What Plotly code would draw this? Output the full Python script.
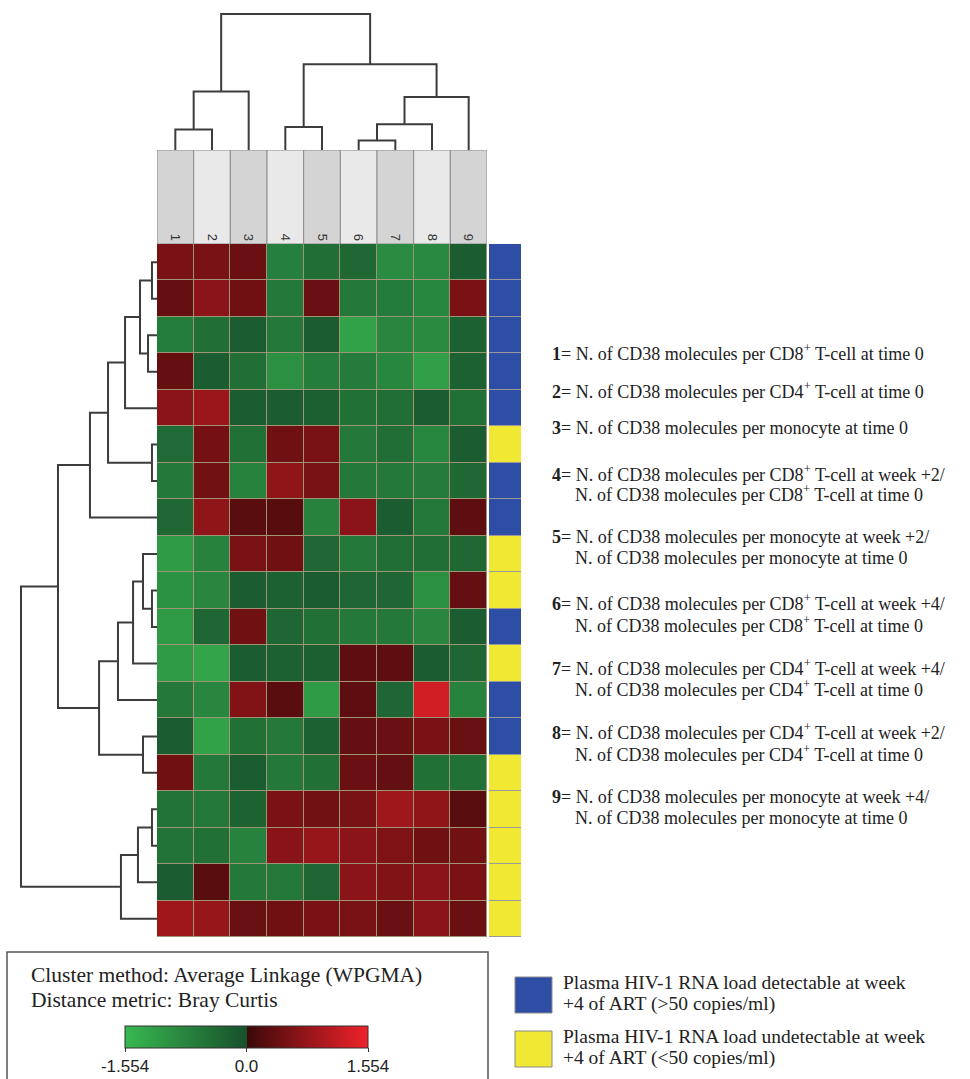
import plotly.graph_objects as go

W, H = 970, 1079

# ---- data -------------------------------------------------------------
columns = ["1", "2", "3", "4", "5", "6", "7", "8", "9"]

# standardized values, one row per patient (top to bottom, clustered order)
values = [
    [0.55, 0.53, 0.41, -0.72, -0.47, -0.36, -0.90, -0.85, -0.20],
    [0.37, 0.68, 0.46, -0.60, 0.41, -0.60, -0.64, -0.82, 0.55],
    [-0.67, -0.45, -0.20, -0.62, -0.20, -1.22, -0.80, -0.88, -0.25],
    [0.37, -0.20, -0.47, -0.96, -0.67, -0.64, -0.82, -1.18, -0.25],
    [0.68, 0.82, -0.20, -0.20, -0.22, -0.49, -0.47, -0.20, -0.49],
    [-0.39, 0.50, -0.49, 0.45, 0.53, -0.62, -0.45, -0.82, -0.20],
    [-0.62, 0.48, -0.75, 0.73, 0.53, -0.62, -0.62, -0.64, -0.36],
    [-0.36, 0.73, 0.27, 0.25, -0.75, 0.68, -0.20, -0.62, 0.31],
    [-1.12, -0.75, 0.55, 0.46, -0.36, -0.62, -0.45, -0.45, -0.36],
    [-0.98, -0.80, -0.20, -0.25, -0.20, -0.34, -0.34, -0.96, 0.36],
    [-1.12, -0.34, 0.46, -0.34, -0.49, -0.62, -0.62, -0.80, -0.20],
    [-1.12, -1.25, -0.20, -0.25, -0.22, 0.31, 0.31, -0.20, -0.34],
    [-0.62, -0.80, 0.61, 0.27, -1.12, 0.31, -0.34, 1.28, -0.75],
    [-0.20, -1.22, -0.49, -0.62, -0.25, 0.36, 0.41, 0.55, 0.38],
    [0.46, -0.62, -0.20, -0.62, -0.49, 0.41, 0.36, -0.49, -0.49],
    [-0.52, -0.62, -0.28, 0.55, 0.48, 0.53, 0.87, 0.73, 0.27],
    [-0.52, -0.49, -0.75, 0.67, 0.79, 0.68, 0.58, 0.46, 0.48],
    [-0.20, 0.27, -0.62, -0.62, -0.34, 0.68, 0.61, 0.68, 0.55],
    [0.87, 0.79, 0.38, 0.46, 0.55, 0.53, 0.41, 0.68, 0.41],
]

# 1 = detectable viral load at week +4, 0 = undetectable
detectable = [1, 1, 1, 1, 1, 0, 1, 1, 0, 0, 1, 0, 1, 1, 0, 0, 0, 0, 0]

z_limit = 1.554
colorbar_ticks = [-1.554, 0.0, 1.554]
colorbar_ticktext = ["-1.554", "0.0", "1.554"]

# WPGMA linkage (scipy-style ids: leaves first, then merges), heights relative to root
col_linkage = [
    (0, 1, 0.15), (9, 2, 0.43), (3, 4, 0.17), (5, 6, 0.07),
    (12, 7, 0.19), (13, 8, 0.39), (11, 14, 0.63), (10, 15, 1.00),
]
row_linkage = [
    (0, 1, 0.037), (2, 3, 0.066), (19, 20, 0.125), (21, 4, 0.235),
    (5, 6, 0.037), (22, 23, 0.360), (24, 7, 0.493), (9, 10, 0.037),
    (8, 26, 0.103), (27, 11, 0.176), (28, 12, 0.287), (13, 14, 0.103),
    (29, 30, 0.426), (25, 31, 0.728), (15, 16, 0.037), (33, 17, 0.140),
    (34, 18, 0.265), (32, 35, 1.000),
]

variable_labels = [
    ("<b>1</b>= N. of CD38 molecules per CD8<sup>+</sup> T-cell at time 0", None),
    ("<b>2</b>= N. of CD38 molecules per CD4<sup>+</sup> T-cell at time 0", None),
    ("<b>3</b>= N. of CD38 molecules per monocyte at time 0", None),
    ("<b>4</b>= N. of CD38 molecules per CD8<sup>+</sup> T-cell at week +2/",
     "N. of CD38 molecules per CD8<sup>+</sup> T-cell at time 0"),
    ("<b>5</b>= N. of CD38 molecules per monocyte at week +2/",
     "N. of CD38 molecules per monocyte at time 0"),
    ("<b>6</b>= N. of CD38 molecules per CD8<sup>+</sup> T-cell at week +4/",
     "N. of CD38 molecules per CD8<sup>+</sup> T-cell at time 0"),
    ("<b>7</b>= N. of CD38 molecules per CD4<sup>+</sup> T-cell at week +4/",
     "N. of CD38 molecules per CD4<sup>+</sup> T-cell at time 0"),
    ("<b>8</b>= N. of CD38 molecules per CD4<sup>+</sup> T-cell at week +2/",
     "N. of CD38 molecules per CD4<sup>+</sup> T-cell at time 0"),
    ("<b>9</b>= N. of CD38 molecules per monocyte at week +4/",
     "N. of CD38 molecules per monocyte at time 0"),
]

status_labels = [
    ("Plasma HIV-1 RNA load detectable at week", "+4 of ART (>50 copies/ml)"),
    ("Plasma HIV-1 RNA load undetectable at week", "+4 of ART (<50 copies/ml)"),
]

# ---- styling ----------------------------------------------------------
BLUE = "#2e4ea6"
YELLOW = "#f1e834"
LINE = "#3c3c3c"
SERIF = "Liberation Serif"
SANS = "Liberation Sans"
heat_scale = [[0.0, "#38b850"], [0.5, "#17502c"], [0.5, "#3a0909"], [1.0, "#f0222a"]]


def px(x):
    return x / W


def py(y):
    return 1 - y / H


def dendro_segments(linkage, n_leaves):
    pos = {i: float(i) for i in range(n_leaves)}
    hgt = {i: 0.0 for i in range(n_leaves)}
    along, height = [], []
    for k, (a, b, h) in enumerate(linkage):
        along += [pos[a], pos[a], pos[b], pos[b], None]
        height += [hgt[a], h, h, hgt[b], None]
        pos[n_leaves + k] = (pos[a] + pos[b]) / 2
        hgt[n_leaves + k] = h
    return along, height


n_rows, n_cols = len(values), len(columns)
rows = list(range(n_rows))
cols = list(range(n_cols))

# pixel frame of the panels
HX0, HX1 = 157, 487      # heatmap
HY0, HY1 = 244, 937
AX0, AX1 = 489, 521      # status column
TOP_Y0 = 150             # header boxes top / column dendrogram base
ROOT_SPAN = 136          # pixels covered by a height of 1.0

fig = go.Figure()

# main heatmap
fig.add_trace(go.Heatmap(
    z=values, x=cols, y=rows, xaxis="x", yaxis="y",
    colorscale=heat_scale, zmin=-z_limit, zmax=z_limit,
    xgap=1, ygap=1, hoverinfo="skip",
    colorbar=dict(
        orientation="h", x=px(246.5), xanchor="center", y=py(1026), yanchor="top",
        len=243, lenmode="pixels", thickness=22, thicknessmode="pixels",
        xpad=0, ypad=0, outlinewidth=1, outlinecolor="#333",
        tickvals=colorbar_ticks, ticktext=colorbar_ticktext,
        ticks="outside", ticklen=4, tickcolor="#333",
        tickfont=dict(family=SANS, size=17, color="#222"),
    ),
))

# status column
fig.add_trace(go.Heatmap(
    z=[[d] for d in detectable], x=[0], y=rows, xaxis="x2", yaxis="y2",
    colorscale=[[0, YELLOW], [0.5, YELLOW], [0.5, BLUE], [1, BLUE]],
    zmin=0, zmax=1, showscale=False, ygap=1, hoverinfo="skip",
))

# column header boxes with labels
fig.add_trace(go.Bar(
    x=cols, y=[1] * n_cols, width=1, xaxis="x5", yaxis="y5",
    marker=dict(color=["#d4d4d4" if i % 2 == 0 else "#e9e9e9" for i in cols],
                line=dict(color="#8c8c8c", width=1)),
    text=columns, textposition="inside", insidetextanchor="start",
    textangle=90, constraintext="none",
    textfont=dict(family=SANS, size=13, color="#333"),
    hoverinfo="skip",
))

# column dendrogram
ca, ch = dendro_segments(col_linkage, n_cols)
fig.add_trace(go.Scatter(x=ca, y=ch, xaxis="x3", yaxis="y3", mode="lines",
                         line=dict(color=LINE, width=2), hoverinfo="skip"))

# row dendrogram
ra, rh = dendro_segments(row_linkage, n_rows)
fig.add_trace(go.Scatter(x=rh, y=ra, xaxis="x4", yaxis="y4", mode="lines",
                         line=dict(color=LINE, width=2), hoverinfo="skip"))

hidden = dict(visible=False, fixedrange=True)
cell_x = [-0.5, n_cols - 0.5]
cell_y = [n_rows - 0.5, -0.5]

fig.update_layout(
    width=W, height=H, autosize=False,
    margin=dict(l=0, r=0, t=0, b=0),
    paper_bgcolor="white", plot_bgcolor="rgba(0,0,0,0)",
    showlegend=False,
    xaxis=dict(domain=[px(HX0), px(HX1)], range=cell_x, anchor="y", **hidden),
    yaxis=dict(domain=[py(HY1), py(HY0)], range=cell_y, anchor="x", **hidden),
    xaxis2=dict(domain=[px(AX0), px(AX1)], range=[-0.5, 0.5], anchor="y2", **hidden),
    yaxis2=dict(domain=[py(HY1), py(HY0)], range=cell_y, anchor="x2", **hidden),
    xaxis3=dict(domain=[px(HX0), px(HX1)], range=cell_x, anchor="y3", **hidden),
    yaxis3=dict(domain=[py(TOP_Y0), 1], range=[0, TOP_Y0 / ROOT_SPAN], anchor="x3", **hidden),
    xaxis4=dict(domain=[0, px(HX0)], range=[HX0 / ROOT_SPAN, 0], anchor="y4", **hidden),
    yaxis4=dict(domain=[py(HY1), py(HY0)], range=cell_y, anchor="x4", **hidden),
    xaxis5=dict(domain=[px(HX0), px(HX1)], range=cell_x, anchor="y5", **hidden),
    yaxis5=dict(domain=[py(HY0), py(TOP_Y0)], range=[0, 1], anchor="x5", **hidden),
)

shapes = [
    # grid colour showing through the cell gaps
    dict(type="rect", xref="x", yref="y", x0=cell_x[0], x1=cell_x[1],
         y0=cell_y[1], y1=cell_y[0], fillcolor="#9f9475", line_width=0, layer="below"),
    dict(type="rect", xref="x2", yref="y2", x0=-0.5, x1=0.5,
         y0=cell_y[1], y1=cell_y[0], fillcolor="#9a9a9a", line_width=0, layer="below"),
    # method box
    dict(type="rect", xref="paper", yref="paper", x0=px(7), x1=px(488),
         y0=py(1090), y1=py(952), line=dict(color="#555", width=1.5),
         fillcolor="rgba(0,0,0,0)"),
]

annotations = []

# variable descriptions
first_line_y = [353, 390, 428, 473, 537, 603, 667, 732, 797]
for (l1, l2), yy in zip(variable_labels, first_line_y):
    annotations.append(dict(xref="paper", yref="paper", x=px(550), y=py(yy),
                            xanchor="left", yanchor="middle", showarrow=False,
                            text=l1, font=dict(family=SERIF, size=18, color="#222")))
    if l2:
        annotations.append(dict(xref="paper", yref="paper", x=px(573), y=py(yy + 21),
                                xanchor="left", yanchor="middle", showarrow=False,
                                text=l2, font=dict(family=SERIF, size=18, color="#222")))

# method box text
for txt, yy in [("Cluster method: Average Linkage (WPGMA)", 975),
                ("Distance metric: Bray Curtis", 1000)]:
    annotations.append(dict(xref="paper", yref="paper", x=px(29), y=py(yy),
                            xanchor="left", yanchor="middle", showarrow=False,
                            text=txt, font=dict(family=SERIF, size=21.5, color="#222")))

# status legend
for (l1, l2), color, top in zip(status_labels, [BLUE, YELLOW], [977, 1031]):
    shapes.append(dict(type="rect", xref="paper", yref="paper",
                       x0=px(515), x1=px(552), y0=py(top + 36), y1=py(top),
                       fillcolor=color, line=dict(color="#8a8a8a", width=1)))
    for txt, dy in [(l1, 5), (l2, 27)]:
        annotations.append(dict(xref="paper", yref="paper", x=px(561), y=py(top + dy),
                                xanchor="left", yanchor="middle", showarrow=False,
                                text=txt, font=dict(family=SERIF, size=19.5, color="#222")))

fig.update_layout(shapes=shapes, annotations=annotations)

fig.write_html("out.html")
